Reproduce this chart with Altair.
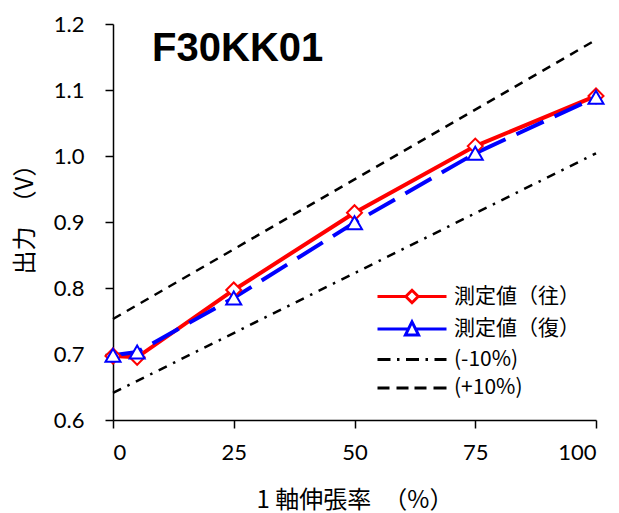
import altair as alt
import pandas as pd

# ---- data ----
strain = [0, 5, 25, 50, 75, 100]
out_vals = [0.697, 0.695, 0.797, 0.914, 1.015, 1.091]   # 測定値（往）
ret_vals = [0.698, 0.703, 0.785, 0.899, 1.004, 1.089]   # 測定値（復）
band_x = [0, 100]
minus10 = [0.641, 1.004]   # (-10%)
plus10 = [0.753, 1.176]    # (+10%)

series_names = ["測定値（往）", "測定値（復）", "(-10%)", "(+10%)"]
series_colors = ["#ff0000", "#0000ff", "#000000", "#000000"]
x_ticks = [0, 25, 50, 75, 100]
y_ticks = [0.6, 0.7, 0.8, 0.9, 1.0, 1.1, 1.2]
chart_title = "F30KK01"
title_at = (8.1, 1.162)   # data-space anchor of the in-plot title
x_title = "1 軸伸張率\u3000（%）"
y_title = "出力\u3000（V）"

# legend symbols (line + marker drawn as one custom path)
legend_paths = [
    "M-3.45,0L-0.62,0M0.62,0L3.45,0M-0.62,0L0,-0.62L0.62,0L0,0.62Z",
    "M-3.45,0L-0.45,0M0.45,0L3.45,0M0,-0.72L0.66,0.6L-0.66,0.6Z",
    "M-3.45,0L-2.15,0M-1.5,0L-1.25,0M-0.6,0L0.7,0M1.35,0L1.6,0M2.25,0L3.45,0",
    "M-3.45,0L-2.25,0M-1.55,0L-0.35,0M0.25,0L1.45,0M2.15,0L3.45,0",
]

df_out = pd.DataFrame({"x": strain, "y": out_vals})
df_ret = pd.DataFrame({"x": strain, "y": ret_vals})
df_minus = pd.DataFrame({"x": band_x, "y": minus10})
df_plus = pd.DataFrame({"x": band_x, "y": plus10})
df_legend = pd.DataFrame({"series": series_names})
df_title = pd.DataFrame({"x": [title_at[0]], "y": [title_at[1]], "t": [chart_title]})

xs = alt.Scale(domain=[0, 100], nice=False, zero=False)
ys = alt.Scale(domain=[0.6, 1.2], nice=False, zero=False)

x_enc = alt.X("x:Q", scale=xs, axis=alt.Axis(values=x_ticks, title=x_title,
                                             labelPadding=14, titlePadding=25))
y_enc = alt.Y("y:Q", scale=ys, axis=alt.Axis(values=y_ticks, format=".1f", title=y_title,
                                             labelPadding=21, titlePadding=16, titleY=189))

minus_line = alt.Chart(df_minus).mark_line(
    color="black", strokeWidth=2.5, strokeDash=[9, 7, 2.5, 7]
).encode(x=x_enc, y=y_enc)

plus_line = alt.Chart(df_plus).mark_line(
    color="black", strokeWidth=2.5, strokeDash=[9, 7]
).encode(x=x_enc, y=y_enc)

out_line = alt.Chart(df_out).mark_line(color="#ff0000", strokeWidth=4).encode(x=x_enc, y=y_enc)
ret_line = alt.Chart(df_ret).mark_line(
    color="#0000ff", strokeWidth=4, strokeDash=[30, 12]
).encode(x=x_enc, y=y_enc)

out_pts = alt.Chart(df_out).mark_point(
    shape="diamond", size=225, filled=True, fill="white", stroke="#ff0000",
    strokeWidth=2, opacity=1
).encode(x=x_enc, y=y_enc)

ret_pts = alt.Chart(df_ret).mark_point(
    shape="triangle-up", size=225, filled=True, fill="white", stroke="#0000ff",
    strokeWidth=2, opacity=1
).encode(x=x_enc, y=y_enc)

title_text = alt.Chart(df_title).mark_text(
    align="left", baseline="middle", font="Liberation Sans", fontSize=40,
    fontWeight="bold", color="black"
).encode(x=alt.X("x:Q", scale=xs), y=alt.Y("y:Q", scale=ys), text="t:N")

legend_layer = alt.Chart(df_legend).transform_filter("false").mark_point(
    filled=False, opacity=1
).encode(
    color=alt.Color("series:N", scale=alt.Scale(domain=series_names, range=series_colors),
                    legend=alt.Legend(title=None)),
    shape=alt.Shape("series:N", scale=alt.Scale(domain=series_names, range=legend_paths),
                    legend=alt.Legend(title=None)),
)

chart = alt.layer(
    minus_line, plus_line, out_line, ret_line, out_pts, ret_pts, title_text, legend_layer
).properties(
    width=483, height=396,
    padding={"left": 5, "top": 5, "right": 0, "bottom": 0},
).configure_view(stroke=None).configure_axis(
    grid=False,
    domainColor="black", domainWidth=1.5,
    tickColor="black", tickWidth=1.5, tickSize=8,
    labelFont="Lato", labelFontSize=22, labelColor="black",
    titleFont="Noto Sans CJK JP", titleFontSize=24, titleFontWeight="normal", titleColor="black",
).configure_axisY(
    titleFontSize=24,
).configure_legend(
    orient="none", legendX=287.5, legendY=261, padding=0, rowPadding=6.5,
    labelOffset=30.5, symbolSize=400, symbolStrokeWidth=3,
    symbolFillColor="white", symbolBaseFillColor="white",
    labelFont="Noto Sans CJK JP", labelFontSize=21, labelColor="black",
)

chart.save("out.html", embed_options={"renderer": "svg", "actions": False})
